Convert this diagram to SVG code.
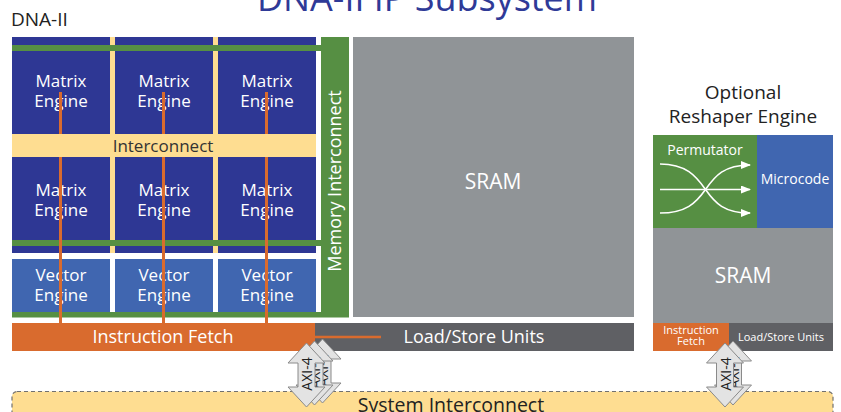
<svg xmlns="http://www.w3.org/2000/svg" width="841" height="412" viewBox="0 0 841 412">
<style>
text{font-family:"Open Sans","Noto Sans","Liberation Sans",sans-serif}
.mx{fill:#2e3794}
.vx{fill:#4066b0}
.yl{fill:#fedd91}
.gr{fill:#568f43}
.or{fill:#d96b2e}
.sr{fill:#909497}
.dk{fill:#5f6064}
.wt{fill:#ffffff;text-anchor:middle;font-size:17px}
.bus{stroke:#d96b2e;stroke-width:3;fill:none}
.perm{stroke:#ffffff;stroke-width:1.6;fill:none;marker-end:url(#ah)}
.axi path{fill:#e3e3e3;stroke:#8a8a8a;stroke-width:1}
.axi text{font-size:14px;fill:#222;text-anchor:middle}
</style>
<defs>
<marker id="ah" viewBox="0 0 10 8" refX="9" refY="4" markerWidth="10" markerHeight="8" markerUnits="userSpaceOnUse" orient="auto">
<path d="M0,0 L10,4 L0,8 Z" fill="#ffffff"/>
</marker>
<g id="axi" class="axi">
<path d="M0,0 L18.5,20 L8.5,20 L8.5,44 L18.5,44 L0,64 L-18.5,44 L-8.5,44 L-8.5,20 L-18.5,20 Z"/>
<text transform="translate(5.5,31) rotate(-90)">AXI-4</text>
</g>
</defs>

<text x="257" y="10.5" font-size="36" fill="#2f3a97" textLength="340" lengthAdjust="spacingAndGlyphs">DNA-II IP Subsystem</text>
<text x="11" y="26" font-size="19" fill="#222">DNA-II</text>

<!-- background grid strips -->
<g id="grid-strips">
<rect class="yl" x="110" y="37" width="5" height="216"/>
<rect class="yl" x="213" y="37" width="5" height="216"/>
</g>

<g id="matrix-1-1"><rect class="mx" x="12" y="37" width="98" height="97"/><text class="wt" x="61" y="87">Matrix</text><text class="wt" x="61" y="107">Engine</text></g>
<g id="matrix-1-2"><rect class="mx" x="115" y="37" width="98" height="97"/><text class="wt" x="164" y="87">Matrix</text><text class="wt" x="164" y="107">Engine</text></g>
<g id="matrix-1-3"><rect class="mx" x="218" y="37" width="98" height="97"/><text class="wt" x="267" y="87">Matrix</text><text class="wt" x="267" y="107">Engine</text></g>
<g id="matrix-2-1"><rect class="mx" x="12" y="157" width="98" height="96"/><text class="wt" x="61" y="196">Matrix</text><text class="wt" x="61" y="216">Engine</text></g>
<g id="matrix-2-2"><rect class="mx" x="115" y="157" width="98" height="96"/><text class="wt" x="164" y="196">Matrix</text><text class="wt" x="164" y="216">Engine</text></g>
<g id="matrix-2-3"><rect class="mx" x="218" y="157" width="98" height="96"/><text class="wt" x="267" y="196">Matrix</text><text class="wt" x="267" y="216">Engine</text></g>
<g id="vector-1"><rect class="vx" x="12" y="259" width="98" height="53"/><text class="wt" x="61" y="281">Vector</text><text class="wt" x="61" y="301">Engine</text></g>
<g id="vector-2"><rect class="vx" x="115" y="259" width="98" height="53"/><text class="wt" x="164" y="281">Vector</text><text class="wt" x="164" y="301">Engine</text></g>
<g id="vector-3"><rect class="vx" x="218" y="259" width="98" height="53"/><text class="wt" x="267" y="281">Vector</text><text class="wt" x="267" y="301">Engine</text></g>

<g id="memory-interconnect"><rect class="gr" x="321" y="37" width="28" height="280"/><text class="wt" font-size="18" style="font-size:18px" transform="translate(341,181) rotate(-90)">Memory Interconnect</text></g>
<g id="sram-main"><rect class="sr" x="353" y="37" width="281" height="280"/><text class="wt" style="font-size:21px" x="493" y="189">SRAM</text></g>
<g id="instruction-fetch"><rect class="or" x="12" y="323" width="303" height="28"/><text class="wt" style="font-size:18px" x="163" y="343">Instruction Fetch</text></g>
<g id="load-store"><rect class="dk" x="315" y="323" width="319" height="28"/><text class="wt" style="font-size:18px" x="474" y="343">Load/Store Units</text></g>

<g id="reshaper-title"><text x="743" y="99" font-size="19" fill="#222" text-anchor="middle">Optional</text><text x="743" y="123" font-size="19" fill="#222" text-anchor="middle">Reshaper Engine</text></g>
<g id="permutator"><rect class="gr" x="653" y="135" width="104" height="93"/><text class="wt" style="font-size:14px" x="705" y="154.5">Permutator</text>
<path class="perm" d="M660,164 C686,164 696,176 705.5,189.5 C715,203 724,213 750,213"/>
<path class="perm" d="M660,213 C686,213 696,203 705.5,189.5 C715,176 724,165 750,165"/>
<path class="perm" d="M660,189.5 L750,189.5"/>
</g>
<g id="microcode"><rect class="vx" x="757" y="135" width="76" height="93"/><text class="wt" style="font-size:14px" x="795" y="184">Microcode</text></g>
<g id="sram-reshaper"><rect class="sr" x="653" y="228" width="180" height="95"/><text class="wt" style="font-size:21px" x="743" y="283">SRAM</text></g>
<g id="instruction-fetch-small"><rect class="or" x="653" y="323" width="76" height="28"/><text class="wt" style="font-size:11px" x="691" y="333.5">Instruction</text><text class="wt" style="font-size:11px" x="691" y="344.5">Fetch</text></g>
<g id="load-store-small"><rect class="dk" x="729" y="323" width="104" height="28"/><text class="wt" style="font-size:11px" x="781" y="341">Load/Store Units</text></g>

<g id="system-interconnect"><rect x="12" y="391.5" width="821" height="40" rx="5" fill="#fedd91" stroke="#707070" stroke-width="1.2" stroke-dasharray="4 3"/><text x="451" y="412" font-size="19.5" fill="#222" text-anchor="middle">System Interconnect</text></g>

<g id="connectors">
<rect class="gr" x="12" y="45" width="309" height="6"/>
<rect class="gr" x="12" y="240" width="309" height="6"/>
<rect class="gr" x="12" y="312" width="337" height="5.5"/>
<line class="bus" x1="60.5" y1="92" x2="60.5" y2="323"/>
<line class="bus" x1="163.5" y1="92" x2="163.5" y2="323"/>
<line class="bus" x1="266.5" y1="92" x2="266.5" y2="323"/>
<line class="bus" x1="315" y1="337" x2="381" y2="337" style="stroke-width:2.5"/>
<use href="#axi" x="322.5" y="339"/>
<use href="#axi" x="314.5" y="341"/>
<use href="#axi" x="306.5" y="343"/>
<use href="#axi" x="733" y="341"/>
<use href="#axi" x="725" y="343"/>
</g>

<g id="interconnect"><rect class="yl" x="12" y="134" width="304" height="23"/><text x="163" y="151.5" font-size="17" fill="#333" text-anchor="middle">Interconnect</text></g>
</svg>
